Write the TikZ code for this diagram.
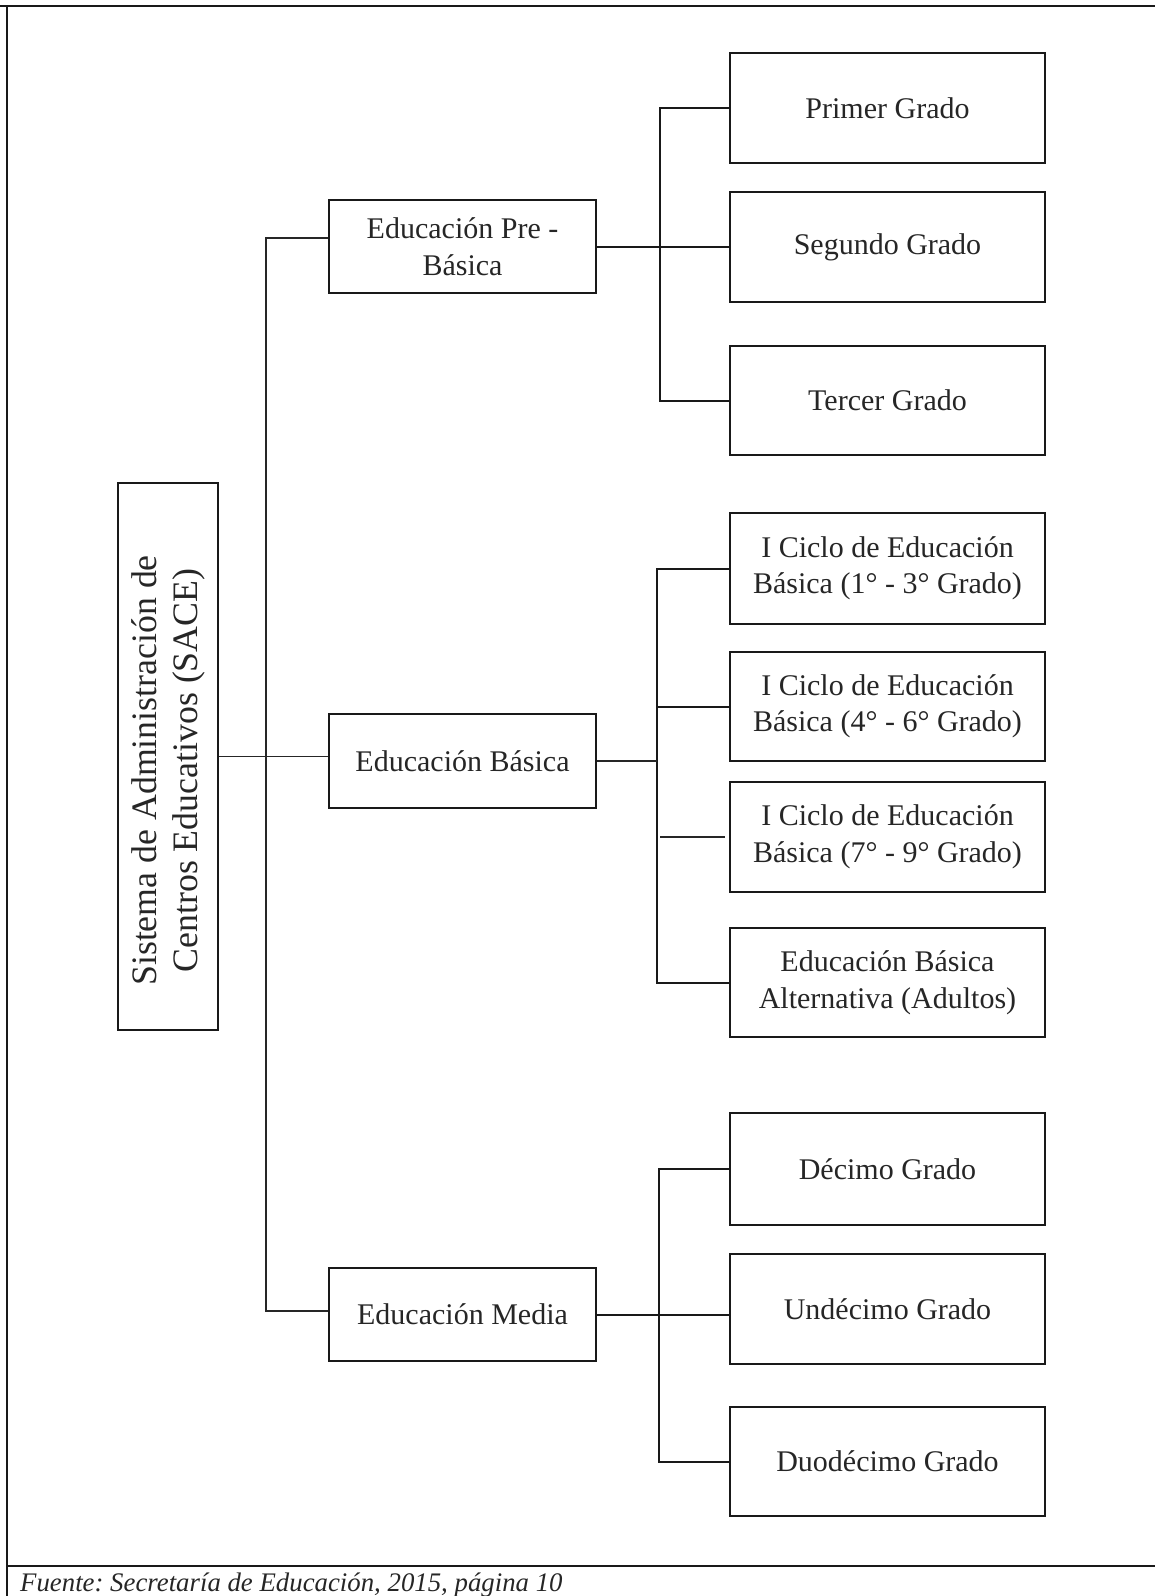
\documentclass[tikz,border=0pt]{standalone}
\usepackage{fontspec}
\setmainfont{Liberation Serif}
\begin{document}
\begin{tikzpicture}[x=1pt,y=-1pt,
  box/.style={draw=black!90,line width=2pt,rectangle,inner sep=0pt,align=center,
    font=\fontsize{30}{36.5}\selectfont,text=black!85},
  lvtwo/.style={box,minimum width=267pt},
  lvthree/.style={box,minimum width=315pt},
  thinconn/.style={draw=black!85,line width=1.1pt},
  thickconn/.style={draw=black!90,line width=2pt},
  frameline/.style={draw=black!90,line width=2.5pt}]
\useasboundingbox (0,0) rectangle (1155,1596);
% frame
\coordinate (ftl) at (7,6);
\coordinate (ftr) at (1155,6);
\coordinate (fbl) at (7,1596);
\coordinate (fml) at (7,1566);
\coordinate (fmr) at (1155,1566);
\draw[frameline] (0,6) -- (ftr);
\draw[draw=black!90,line width=2pt] (ftl) -- (fbl);
\draw[frameline] (fml) -- (fmr);
% root
\node[box,rotate=90,minimum width=547pt,minimum height=100pt,font=\fontsize{35.8}{41}\selectfont] (sace) at (168,756.5)
  {Sistema de Administración de\hspace*{28pt}\\Centros Educativos (SACE)\hspace*{28pt}};
% level two
\node[lvtwo,minimum height=93pt] (pre) at (462.5,246.5) {Educación Pre -\\Básica};
\node[lvtwo,minimum height=94pt] (basica) at (462.5,761) {Educación Básica};
\node[lvtwo,minimum height=93pt] (media) at (462.5,1314.5) {Educación Media};
% level three
\node[lvthree,minimum height=110pt] (primer) at (887.5,108) {Primer Grado};
\node[lvthree,minimum height=110pt] (segundo) at (887.5,247) {Segundo Grado};
\node[lvthree,minimum height=109pt] (tercer) at (887.5,400.5) {Tercer Grado};
\node[lvthree,minimum height=111pt] (ciclo1) at (887.5,568.5) {I Ciclo de Educación\\Básica (1° - 3° Grado)};
\node[lvthree,minimum height=109pt] (ciclo2) at (887.5,706.5) {I Ciclo de Educación\\Básica (4° - 6° Grado)};
\node[lvthree,minimum height=110pt] (ciclo3) at (887.5,837) {I Ciclo de Educación\\Básica (7° - 9° Grado)};
\node[lvthree,minimum height=109pt] (alt) at (887.5,982.5) {Educación Básica\\Alternativa (Adultos)};
\node[lvthree,minimum height=112pt] (decimo) at (887.5,1169) {Décimo Grado};
\node[lvthree,minimum height=110pt] (undecimo) at (887.5,1309) {Undécimo Grado};
\node[lvthree,minimum height=109pt] (duodecimo) at (887.5,1461.5) {Duodécimo Grado};
% main spine
\coordinate (spT) at (266,238);
\coordinate (spB) at (266,1311);
\draw[thinconn] (spT -| pre.west) -- (spT) -- (spB) -- (spB -| media.west);
\draw[thinconn] (sace.south) -- (sace.south -| basica.west);
% pre children
\coordinate (ka) at (660,0);
\draw[thickconn] (primer.west) -- (primer.west -| ka) -- (tercer.west -| ka) -- (tercer.west);
\draw[thickconn] (pre.east) -- (pre.east -| segundo.west);
% basica children
\coordinate (kb) at (657,0);
\draw[thickconn] (ciclo1.west) -- (ciclo1.west -| kb) -- (alt.west -| kb) -- (alt.west);
\draw[thickconn] (ciclo2.west) -- (ciclo2.west -| kb);
\draw[thinconn] (basica.east) -- (basica.east -| kb);
\draw[thinconn] ([xshift=3pt]ciclo3.west -| kb) -- ([xshift=-4pt]ciclo3.west);
% media children
\coordinate (kc) at (659,0);
\draw[thickconn] (decimo.west) -- (decimo.west -| kc) -- (duodecimo.west -| kc) -- (duodecimo.west);
\draw[thickconn] (media.east) -- (media.east -| undecimo.west);
% caption
\node[anchor=base west,inner sep=0pt,font=\frenchspacing\itshape\fontsize{26.8}{30}\selectfont,text=black!85] (fuente) at (20,1591)
  {Fuente: Secretaría de Educación, 2015, página 10};
\end{tikzpicture}
\end{document}
